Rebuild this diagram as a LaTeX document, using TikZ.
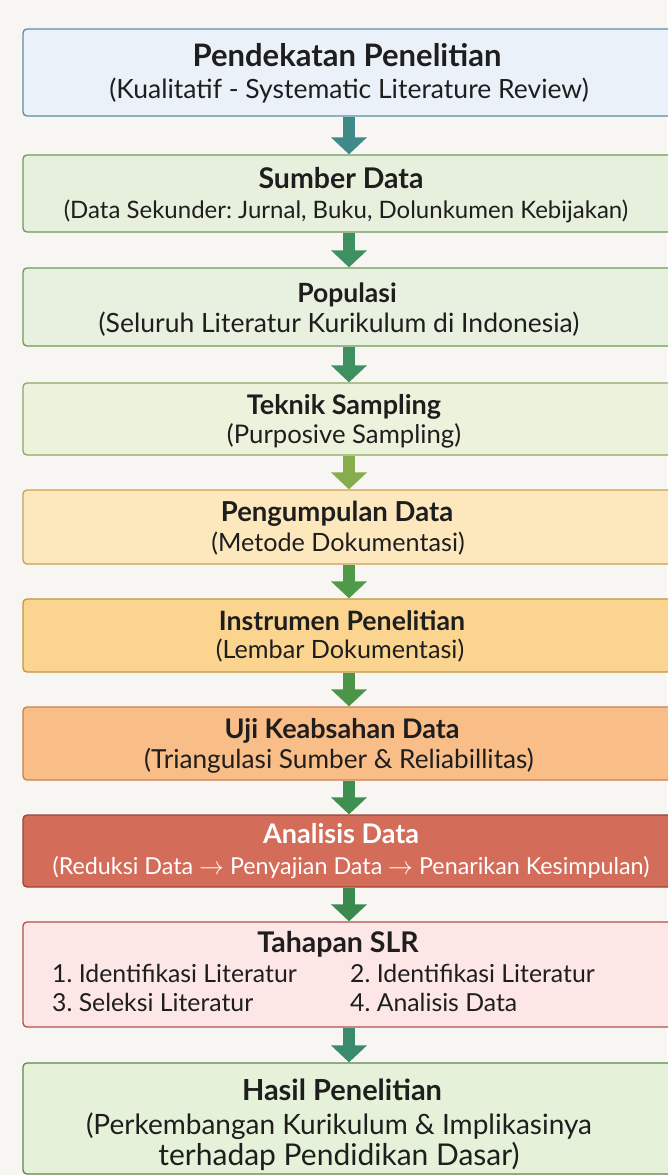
\documentclass[tikz,border=0pt]{standalone}
\usepackage{fontspec}
\setmainfont{Lato}
\usetikzlibrary{arrows.meta}
\frenchspacing
\definecolor{bgc}{HTML}{F7F6F3}
\definecolor{txt}{HTML}{1E1E1E}
\definecolor{f1}{HTML}{EAF1F8}\definecolor{d1}{HTML}{5B8DA8}
\definecolor{f2}{HTML}{E6F0DC}\definecolor{d2}{HTML}{6C9A58}
\definecolor{f3}{HTML}{E8F0DF}\definecolor{d3}{HTML}{6C9A58}
\definecolor{f4}{HTML}{EDF2DC}\definecolor{d4}{HTML}{8BA760}
\definecolor{f5}{HTML}{FDE8BE}\definecolor{d5}{HTML}{C9A050}
\definecolor{f6}{HTML}{FBD590}\definecolor{d6}{HTML}{C4963A}
\definecolor{f7}{HTML}{F9BD88}\definecolor{d7}{HTML}{C88050}
\definecolor{f8}{HTML}{D36C58}\definecolor{d8}{HTML}{9C4436}
\definecolor{f9}{HTML}{FCE6E6}\definecolor{d9}{HTML}{B0504C}
\definecolor{f10}{HTML}{E6F1D9}\definecolor{d10}{HTML}{5C8A48}
\definecolor{a1}{HTML}{3F8A88}
\definecolor{a2}{HTML}{3E9060}
\definecolor{a3}{HTML}{3E9060}
\definecolor{a4}{HTML}{86AD4C}
\definecolor{a5}{HTML}{4E9A48}
\definecolor{a6}{HTML}{4C9548}
\definecolor{a7}{HTML}{3E9050}
\definecolor{a8}{HTML}{3A8A4E}
\definecolor{a9}{HTML}{3A8A6E}
\begin{document}
\begin{tikzpicture}[x=1pt,y=-1pt,
  box/.style={draw, line width=1.3pt, rounded corners=4pt, minimum width=652pt, inner sep=0pt},
  ttl/.style={font=\bfseries\fontsize{#1}{#1}\selectfont, text=txt, inner sep=0pt, text height=0.66em, text depth=0pt},
  sub/.style={font=\fontsize{#1}{#1}\selectfont, text=txt, inner sep=0pt, text height=0.66em, text depth=0pt},
  arr/.style={line width=12pt, -{Triangle[width=35pt,length=17pt]}}]
\fill[bgc] (0,0) rectangle (667,1175);
\useasboundingbox (0,0) rectangle (667,1175);
% boxes
\node[box, fill=f1, draw=d1, minimum height=87pt] (b1) at (349,72.5) {};
\node[box, fill=f2, draw=d2, minimum height=77pt] (b2) at (349,193.5) {};
\node[box, fill=f3, draw=d3, minimum height=78pt] (b3) at (349,307) {};
\node[box, fill=f4, draw=d4, minimum height=72pt] (b4) at (349,419) {};
\node[box, fill=f5, draw=d5, minimum height=74pt] (b5) at (349,527) {};
\node[box, fill=f6, draw=d6, minimum height=73pt] (b6) at (349,635.5) {};
\node[box, fill=f7, draw=d7, minimum height=73pt] (b7) at (349,743.5) {};
\node[box, fill=f8, draw=d8, minimum height=72pt] (b8) at (349,851) {};
\node[box, fill=f9, draw=d9, minimum height=105pt] (b9) at (349,974.5) {};
\node[box, fill=f10, draw=d10, minimum height=111pt] (b10) at (349,1118.5) {};
% arrows
\draw[arr, a1] (b1.south) -- (b2.north);
\draw[arr, a2] (b2.south) -- (b3.north);
\draw[arr, a3] (b3.south) -- (b4.north);
\draw[arr, a4] (b4.south) -- (b5.north);
\draw[arr, a5] (b5.south) -- (b6.north);
\draw[arr, a6] (b6.south) -- (b7.north);
\draw[arr, a7] (b7.south) -- (b8.north);
\draw[arr, a8] (b8.south) -- (b9.north);
\draw[arr, a9] (b9.south) -- (b10.north);
% texts
\node[ttl=31] (t1) at (347,63) {Pendekatan Penelitian};
\node[sub=26.5] (s1) at (349,95) {(Kualitatif - Systematic Literature Review)};
\node[ttl=28.5] (t2) at (341,185) {Sumber Data};
\node[sub=24] (s2) at (346,215) {(Data Sekunder: Jurnal, Buku, Dolunkumen Kebijakan)};
\node[ttl=26.5] (t3) at (347,299) {Populasi};
\node[sub=26.5] (s3) at (339,329) {(Seluruh Literatur Kurikulum di Indonesia)};
\node[ttl=27] (t4) at (344,411) {Teknik Sampling};
\node[sub=25.7] (s4) at (344,440) {(Purposive Sampling)};
\node[ttl=27.5] (t5) at (337,518) {Pengumpulan Data};
\node[sub=25.2] (s5) at (338,548) {(Metode Dokumentasi)};
\node[ttl=26.7] (t6) at (342,627) {Instrumen Penelitian};
\node[sub=25.2] (s6) at (340,655) {(Lembar Dokumentasi)};
\node[ttl=27] (t7) at (342,735) {Uji Keabsahan Data};
\node[sub=26.2] (s7) at (339,765) {(Triangulasi Sumber \& Reliabillitas)};
\node[ttl=27, text=white] (t8) at (341,840) {Analisis Data};
\node[sub=23.3, text=white] (s8) at (351,871) {(Reduksi Data $\rightarrow$ Penyajian Data $\rightarrow$ Penarikan Kesimpulan)};
\node[ttl=28.5] (t9) at (338,949) {Tahapan SLR};
\node[sub=24.8, anchor=west] (l1) at (52,979) {1. Identifikasi Literatur};
\node[sub=24.8, anchor=west] (l2) at (350,979) {2. Identifikasi Literatur};
\node[sub=24.8, anchor=west] (l3) at (52,1008) {3. Seleksi Literatur};
\node[sub=24.8, anchor=west] (l4) at (350,1008) {4. Analisis Data};
\node[ttl=29] (t10) at (342,1097) {Hasil Penelitian};
\node[sub=28] (h1) at (339,1131) {(Perkembangan Kurikulum \& Implikasinya};
\node[sub=30] (h2) at (339,1162) {terhadap Pendidikan Dasar)};
\end{tikzpicture}
\end{document}
